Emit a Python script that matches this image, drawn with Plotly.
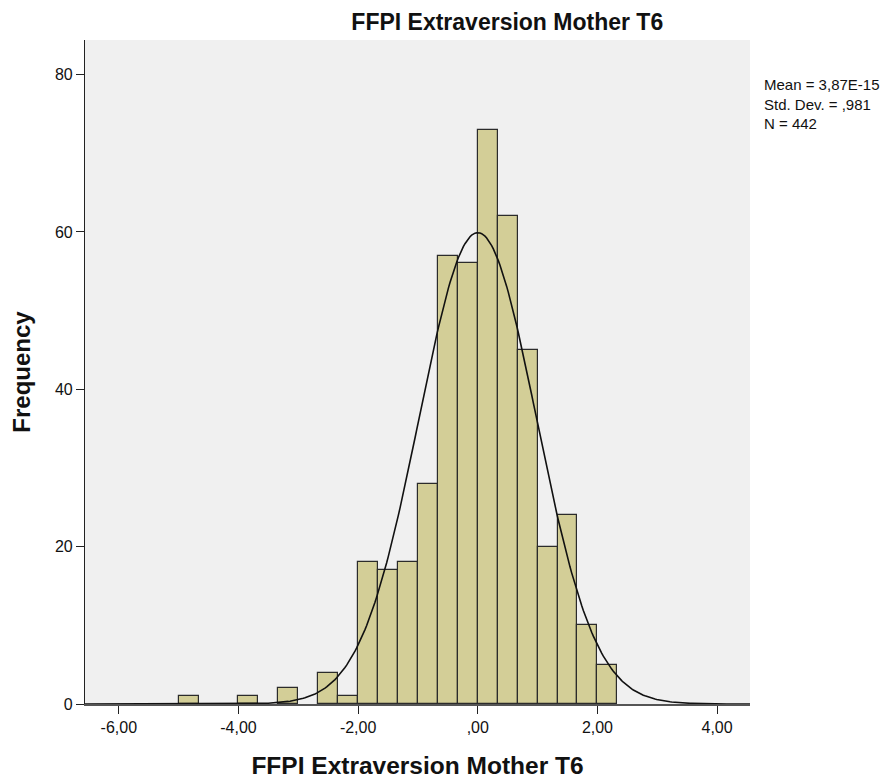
import math
import plotly.graph_objects as go

# ---- data ----
bin_width = 1 / 3
bin_left = [-5.0, -4.0, -10/3, -8/3, -7/3, -2.0, -5/3, -4/3, -1.0, -2/3, -1/3,
            0.0, 1/3, 2/3, 1.0, 4/3, 5/3, 2.0]
counts = [1, 1, 2, 4, 1, 18, 17, 18, 28, 57, 56, 73, 62, 45, 20, 24, 10, 5]

stat_mean = 3.87e-15
stat_sd = 0.981
stat_n = 442
stats_text = ["Mean = 3,87E-15", "Std. Dev. = ,981", "N = 442"]

x_tickvals = [-6, -4, -2, 0, 2, 4]
x_ticktext = ["-6,00", "-4,00", "-2,00", ",00", "2,00", "4,00"]
y_tickvals = [0, 20, 40, 60, 80]

title_text = "FFPI Extraversion Mother T6"
x_title = "FFPI Extraversion Mother T6"
y_title = "Frequency"

x_range = [-6.565, 4.55]
y_range = [0, 84.4]

# ---- derived ----
centers = [l + bin_width / 2 for l in bin_left]

# fitted normal curve (SPSS-style) from the reported statistics
n_pts = 400
curve_x = [x_range[0] + (x_range[1] - x_range[0]) * i / (n_pts - 1) for i in range(n_pts)]
scale = stat_n * bin_width / (stat_sd * math.sqrt(2 * math.pi))
curve_y = [scale * math.exp(-0.5 * ((x - stat_mean) / stat_sd) ** 2) for x in curve_x]

fig = go.Figure()
fig.add_trace(go.Bar(
    x=centers, y=counts, width=bin_width,
    marker=dict(color="#D3CE97", line=dict(color="#2b2b2b", width=1.2)),
    showlegend=False, hoverinfo="x+y",
))
fig.add_trace(go.Scatter(
    x=curve_x, y=curve_y, mode="lines",
    line=dict(color="#111111", width=1.6),
    showlegend=False, hoverinfo="skip",
))

font_family = "Liberation Sans, Arial, sans-serif"

# page has an 8px body margin, so margins are reduced by 8px to compensate
W, H = 894, 782
ML, MT, PW, PH = 73, 32, 669, 664

fig.update_layout(
    width=W, height=H,
    margin=dict(l=ML, r=W - ML - PW, t=MT, b=H - MT - PH, pad=0),
    paper_bgcolor="white",
    plot_bgcolor="#F0F0F0",
    font=dict(family=font_family, color="#111111", size=16),
    bargap=0,
    title=dict(
        text="<b>" + title_text + "</b>",
        font=dict(size=23, family=font_family, color="#111111"),
        xref="paper", x=0.635, xanchor="center",
        yref="container", y=1 - 14 / H, yanchor="middle",
    ),
    xaxis=dict(
        range=x_range, tickvals=x_tickvals, ticktext=x_ticktext,
        ticks="outside", ticklen=8, tickcolor="#222222", tickwidth=1,
        showgrid=False, zeroline=False,
        showline=True, linecolor="#555555", linewidth=1.5,
        tickfont=dict(size=16, family=font_family, color="#111111"),
        title=dict(text="<b>" + x_title + "</b>",
                   font=dict(size=24.5, family=font_family, color="#111111"),
                   standoff=22),
    ),
    yaxis=dict(
        range=y_range, tickvals=y_tickvals,
        ticks="outside", ticklen=8, tickcolor="#222222", tickwidth=1,
        showgrid=False, zeroline=False,
        showline=True, linecolor="#222222", linewidth=1.2,
        tickfont=dict(size=16, family=font_family, color="#111111"),
        title=dict(text="<b>" + y_title + "</b>",
                   font=dict(size=24, family=font_family, color="#111111"),
                   standoff=18),
    ),
)

fig.add_annotation(
    text="<br>".join(stats_text), xref="paper", yref="paper",
    x=(754 - ML) / PW, y=1 - (66 - MT) / PH,
    xanchor="left", yanchor="top", align="left", showarrow=False,
    font=dict(size=15, family=font_family, color="#111111"),
)

fig.write_html("out.html")
